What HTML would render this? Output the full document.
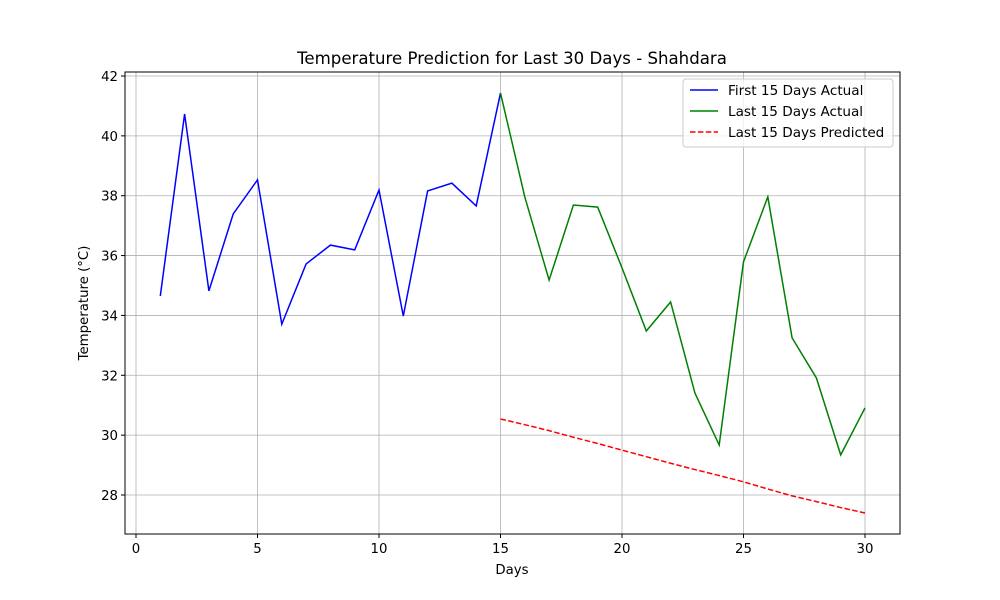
<!DOCTYPE html>
<html><head><meta charset="utf-8"><style>
body{margin:0;background:#fff}
svg{display:block;font-family:"DejaVu Sans","Liberation Sans",sans-serif}
</style></head><body>
<svg id="chart" width="1000" height="600" viewBox="0 0 1000 600" xmlns="http://www.w3.org/2000/svg">
<rect width="1000" height="600" fill="#fff"/>
<text x="512" y="64" text-anchor="middle" font-size="16.6">Temperature Prediction for Last 30 Days - Shahdara</text>
<g id="grid"></g>
<g id="series"></g>
<rect x="125" y="72" width="775" height="462" fill="none" stroke="#000" stroke-width="1"/>
<g id="ticks"></g>
<text x="512" y="574" text-anchor="middle" font-size="13.3">Days</text>
<text transform="translate(88,303) rotate(-90)" text-anchor="middle" font-size="13.3">Temperature (°C)</text>
<g>
<rect x="683" y="79" width="210" height="68" rx="3" fill="#fff" fill-opacity="0.8" stroke="#ccc"/>
<line x1="690" y1="90" x2="718" y2="90" stroke="#0000ff" stroke-width="1.5"/>
<text x="728" y="95" font-size="13.6">First 15 Days Actual</text>
<line x1="690" y1="111" x2="718" y2="111" stroke="#008000" stroke-width="1.5"/>
<text x="728" y="116" font-size="13.6">Last 15 Days Actual</text>
<line x1="690" y1="132" x2="718" y2="132" stroke="#ff0000" stroke-width="1.5" stroke-dasharray="5.5,2.4"/>
<text x="728" y="137" font-size="13.6">Last 15 Days Predicted</text>
</g>
</svg>
<script>
const firstDays=[1,2,3,4,5,6,7,8,9,10,11,12,13,14,15];
const firstActual=[34.65,40.73,34.82,37.39,38.53,33.71,35.72,36.35,36.19,38.19,33.98,38.16,38.42,37.66,41.43];
const lastDays=[15,16,17,18,19,20,21,22,23,24,25,26,27,28,29,30];
const lastActual=[41.43,37.96,35.18,37.69,37.62,35.59,33.48,34.45,31.41,29.67,35.79,37.96,33.25,31.91,29.34,30.91];
const lastPredicted=[30.54,30.35,30.15,29.93,29.72,29.5,29.28,29.06,28.85,28.65,28.44,28.2,27.97,27.78,27.58,27.40];
const xTicks=[0,5,10,15,20,25,30];
const yTicks=[28,30,32,34,36,38,40,42];
const NS="http://www.w3.org/2000/svg";
const xs=d=>136+d*(865-136)/30;
const ys=v=>76+(42-v)*(495-76)/14;
function mk(t,a,p){const e=document.createElementNS(NS,t);for(const k in a)e.setAttribute(k,a[k]);p.appendChild(e);return e;}
const grid=document.getElementById('grid'),ticks=document.getElementById('ticks'),ser=document.getElementById('series');
xTicks.forEach(t=>{const x=xs(t);
 const g=mk('line',{x1:x,x2:x,y1:72,y2:534,stroke:'#b0b0b0','stroke-width':0.8},grid);
 
 
 mk('line',{x1:x,x2:x,y1:534,y2:538,stroke:'#000'},ticks);
 const l=mk('text',{x:x,y:553,'text-anchor':'middle','font-size':13.3},ticks);l.textContent=t;
 
 });
yTicks.forEach(t=>{const y=ys(t);
 const g=mk('line',{x1:125,x2:900,y1:y,y2:y,stroke:'#b0b0b0','stroke-width':0.8},grid);
 
 
 mk('line',{x1:121,x2:125,y1:y,y2:y,stroke:'#000'},ticks);
 const l=mk('text',{x:118,y:y+5,'text-anchor':'end','font-size':13.3},ticks);l.textContent=t;
 
 });
function line(days,vals,color,dash,name){
 const p=mk('polyline',{points:days.map((d,i)=>xs(d)+','+ys(vals[i])).join(' '),fill:'none',stroke:color,'stroke-width':1.5},ser);
 if(dash)p.setAttribute('stroke-dasharray',dash);
 
 }
line(firstDays,firstActual,'#0000ff',null,'first-15-actual-line');
line(lastDays,lastActual,'#008000',null,'last-15-actual-line');
line(lastDays,lastPredicted,'#ff0000','5.5,2.4','last-15-predicted-line');
</script>
</body></html>
